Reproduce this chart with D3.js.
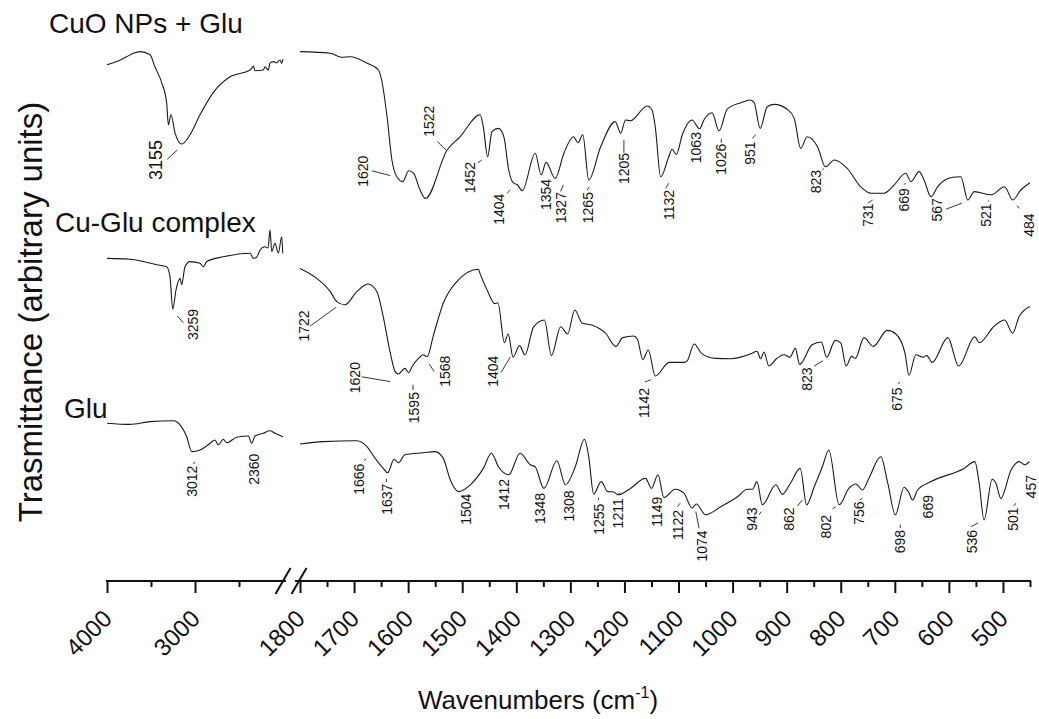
<!DOCTYPE html>
<html>
<head>
<meta charset="utf-8">
<script src="https://cdnjs.cloudflare.com/ajax/libs/d3/7.8.5/d3.min.js"></script>
<style>
body{margin:0;background:#fff;}
text{font-family:"Liberation Sans",Arial,sans-serif;fill:#111;}
</style>
</head>
<body>
<div id="plot"></div>
<script>
// series names
var seriesNames = ["CuO NPs + Glu", "Cu-Glu complex", "Glu"];

// spectra: [wavenumber, transmittance (arbitrary units)]
// high range 4000-2000, low range 1800-450
var cuoHigh = [[4000,128.8],[3890,129.6],[3776,130.8],[3701,131.7],[3625,132.1],[3511,131.3],[3455,128.3],[3378,124.3],[3322,119.3],[3303,113.8],[3273,116.3],[3227,111.8],[3151,109],[3057,111.3],[2943,116.3],[2795,121.8],[2602,125.8],[2375,127.5],[2356,127.9],[2337,128.5],[2318,127.3],[2224,127.5],[2205,128.3],[2167,127.5],[2148,129.2],[2110,129.6],[2072,129.3],[2034,130],[2015,129.2],[2000,130.2]];
var cuoLow = [[1800,132.1],[1744,131.7],[1723,130.7],[1707,130.8],[1676,129.2],[1655,127.5],[1649,125],[1639,115.8],[1630,105],[1621,100.8],[1610,99.6],[1599,102.3],[1590,101.7],[1578,97.5],[1568,95.4],[1528,107.5],[1504,110.8],[1467,116.3],[1461,113.3],[1453,105.8],[1445,112.1],[1433,112.9],[1423,110.8],[1414,102.5],[1405,99.2],[1398,98.8],[1389,97.3],[1365,106.7],[1354,101.3],[1345,104.4],[1328,100.4],[1312,106.7],[1294,110.8],[1286,109.3],[1277,111.3],[1266,100],[1244,108.3],[1217,114.6],[1207,111.7],[1198,115],[1189,114.8],[1158,118.5],[1149,117.5],[1143,113.3],[1133,100.8],[1118,105.8],[1112,107.7],[1104,106.4],[1093,111.3],[1075,115],[1061,112.8],[1053,115],[1038,116.8],[1025,112.3],[1010,117.7],[985,119.3],[967,120],[960,119.3],[949,112.9],[936,118.3],[923,118.9],[899,117.7],[886,115.4],[874,107.9],[862,110.8],[843,108.3],[828,103.3],[812,105],[788,102.9],[763,98.3],[744,96.7],[720,96.7],[701,98.8],[680,101.7],[670,99.6],[655,102.1],[646,100],[633,95.8],[621,98.3],[593,100.7],[578,100.8],[565,95],[553,97.1],[522,96.3],[497,98.3],[482,95],[467,97.5],[450,99.3]];

var cuGluHigh = [[4000,80.4],[3739,80.2],[3435,78.8],[3322,78.3],[3284,75.8],[3253,67.7],[3216,72.5],[3170,75.4],[3151,73.8],[3114,78.3],[3057,79.6],[2943,79.2],[2906,78.3],[2867,79.6],[2678,80.8],[2375,81.7],[2337,80.4],[2299,80.7],[2261,82.5],[2205,83.3],[2170,83],[2148,87.5],[2128,82.1],[2091,84.2],[2053,81.7],[2015,85.8],[2003,81.7]];
var cuGluLow = [[1800,77.9],[1769,75.4],[1744,72.1],[1732,69.6],[1717,68.8],[1695,72.1],[1674,74],[1658,72.1],[1646,65.8],[1633,56.7],[1624,52.1],[1618,51.5],[1606,52.9],[1599,51.8],[1593,53.3],[1581,55.4],[1572,56.3],[1565,55.8],[1553,61.3],[1535,69.2],[1510,74.6],[1470,77.7],[1467,76.6],[1453,72.2],[1440,69.1],[1434,69.3],[1422,59.3],[1415,61.5],[1406,55.7],[1394,58.6],[1384,56.3],[1368,63.3],[1348,65],[1335,56.1],[1318,63.3],[1305,61.5],[1292,67.5],[1278,64.2],[1259,63.7],[1235,61.7],[1216,58.4],[1203,60.6],[1183,61],[1176,60.2],[1166,55.1],[1156,57.5],[1143,51],[1117,54.4],[1090,54.4],[1084,54.8],[1071,59],[1057,56.6],[1031,55.4],[1004,55.3],[965,56.6],[955,57.2],[948,55.3],[942,57],[933,53.5],[919,55.3],[905,56.3],[894,55.7],[884,57.9],[876,53.9],[853,58.8],[836,59.5],[826,55.7],[810,59.9],[800,59.3],[790,53.5],[780,55.9],[773,55.4],[757,60.6],[740,58.4],[714,62.4],[698,61.5],[681,56.6],[674,51.2],[661,56.3],[648,55.7],[641,56.1],[631,54.4],[602,60.6],[582,53.5],[552,60.8],[544,59.3],[516,63.5],[497,65],[482,61.7],[470,65.9],[450,68.4]];

var gluHigh = [[4000,39.2],[3739,38.9],[3511,39.6],[3247,39.8],[3170,38.8],[3094,35.8],[3037,32.1],[2943,32.5],[2849,33.8],[2773,35],[2735,33.8],[2678,35.2],[2640,34.3],[2526,35.7],[2394,36],[2356,34.2],[2318,36],[2224,36.7],[2148,37.3],[2091,36.7],[2000,35.8]];
var gluLow = [[1800,34],[1757,34.6],[1695,34.8],[1676,33.3],[1661,30.4],[1646,27.9],[1638,26.8],[1626,30.2],[1618,29.3],[1606,31.3],[1572,31.8],[1550,32.1],[1535,30.4],[1522,25],[1507,22.1],[1485,23.8],[1461,27.9],[1446,31.7],[1433,28.3],[1414,26.3],[1393,31.7],[1374,28.8],[1365,28.3],[1349,22.9],[1325,29.8],[1309,23.8],[1291,28.3],[1274,35.2],[1266,30.8],[1257,21.5],[1243,24.6],[1231,22.1],[1220,22],[1212,21.3],[1189,22.9],[1161,25.4],[1150,22.9],[1138,26.3],[1127,20.6],[1106,22.7],[1090,21.7],[1075,18],[1067,19],[1050,16.3],[1022,18.3],[991,20.8],[973,22.7],[963,22.7],[955,24.6],[945,18.8],[920,23.8],[908,21.4],[893,24.2],[875,27.9],[863,18.8],[849,23.3],[834,28.3],[822,32.5],[803,18.8],[785,22.9],[772,24],[760,22.5],[748,25.4],[726,30.8],[713,24.2],[699,16.3],[683,23.2],[675,22.1],[667,20],[658,22.5],[633,24.6],[572,27.9],[552,29.6],[544,24.2],[535,15],[520,25.2],[513,24.2],[504,20.4],[485,27.5],[470,29.6],[460,28.8],[451,29.6]];

// peak labels: [text, wavenumber of label, value at label foot, leader line]
var cuoPeaks = [
  ["3155",3447,100,[3315,105.2,3201,107.5]],
  ["1620",1684,98.3,[1667,102.3,1633,101.1]],
  ["1522",1562,110.8,[1546,109.6,1530,107.5]],
  ["1452",1486,96.7,[1471,104.3,1464,105]],
  ["1404",1432,88.8,[1417,96.7,1411,97.5]],
  ["1354",1346,92.5,null],
  ["1327",1318,89.2,[1318,97.1,1313,98.8]],
  ["1265",1268,89.2,[1269,97.5,1265,98.3]],
  ["1205",1201,99,[1201,106.8,1201,110]],
  ["1132",1118,90,[1124,97.9,1118,99.2]],
  ["1063",1068,104.2,null],
  ["1026",1021,101.3,[1021,109.3,1021,110.3]],
  ["951",967,103.8,[964,110.4,957,111.3]],
  ["823",846,96.7,[834,102.5,831,102.9]],
  ["731",750,88.3,[750,94.2,741,95]],
  ["669",683,92.1,[683,98.8,680,99.3]],
  ["567",622,89.6,[605,92.7,576,94.2]],
  ["521",531,88.3,[528,94.6,525,95]],
  ["484",452,85.8,[474,93.6,470,92.9]]
];
var cuGluPeaks = [
  ["3259",3019,60,[3201,66,3133,64.3]],
  ["1722",1792,59.6,[1781,63.5,1733,68.2]],
  ["1620",1698,46.7,[1686,50.8,1633,49.6]],
  ["1595",1589,39.2,[1591,47.5,1591,48.8]],
  ["1568",1532,48.3,[1552,52.1,1561,54]],
  ["1404",1444,48.3,[1428,51.9,1411,55.8]],
  ["1142",1164,40.5,[1162,49.5,1151,50.1]],
  ["823",863,47.3,[849,53.5,833,54.8]],
  ["675",696,42.3,[694,49,690,49.5]]
];
var gluPeaks = [
  ["3012",3034,20.8,[3019,29,3000,29.5]],
  ["2360",2326,23.8,null],
  ["1666",1691,21.3,[1681,29.8,1678,30.3]],
  ["1637",1640,16.3,[1640,24.5,1640,25.3]],
  ["1504",1493,13.8,null],
  ["1412",1423,17.5,null],
  ["1348",1357,14,null],
  ["1308",1303,14.6,null],
  ["1255",1248,11.3,[1248,20,1248,20.6]],
  ["1211",1212,12.9,[1212,21.3,1209,21.8]],
  ["1149",1140,13.3,null],
  ["1122",1101,10,[1102,18.3,1097,19.2]],
  ["1074",1057,4.6,[1062,12.9,1068,17.1]],
  ["943",964,12.3,[951,16.3,947,17.1]],
  ["862",895,12.3,[880,18.5,871,20]],
  ["802",827,10.4,[815,17.8,809,18.3]],
  ["756",767,13.8,[765,20,760,20.5]],
  ["698",690,6.7,[690,13,690,13.8]],
  ["669",638,15.4,[643,18.5,646,19.2]],
  ["536",558,6.7,[559,13.3,546,14.3]],
  ["501",481,12.3,[480,18.5,476,19.2]],
  ["457",448,20.4,null]
];

// axis ticks
var majorHigh = [4000, 3000];
var minorHigh = [3500, 2500];
var majorLow = [1800,1700,1600,1500,1400,1300,1200,1100,1000,900,800,700,600,500];
var minorLow = [1750,1650,1550,1450,1350,1250,1150,1050,950,850,750,650,550,450];

var W = 1039, H = 719;
var svg = d3.select('#plot').append('svg')
  .attr('width', W).attr('height', H);

var xHigh = d3.scaleLinear().domain([4000, 2000]).range([107, 283]);
var xLow = d3.scaleLinear().domain([1800, 450]).range([300, 1030]);
function xOf(w) { return w > 1900 ? xHigh(w) : xLow(w); }
var y = d3.scaleLinear().domain([0, 145]).range([580, 0]);

var line = d3.line()
  .x(function(d){ return xOf(d[0]); })
  .y(function(d){ return y(d[1]); })
  .curve(d3.curveMonotoneX);

var spectra = [cuoHigh, cuoLow, cuGluHigh, cuGluLow, gluHigh, gluLow];
svg.append('g').selectAll('path').data(spectra).join('path')
  .attr('d', line)
  .attr('fill', 'none')
  .attr('stroke', '#1a1a1a')
  .attr('stroke-width', 1.1);

// peak labels
var peaks = svg.append('g');
[cuoPeaks, cuGluPeaks, gluPeaks].forEach(function(set){
  set.forEach(function(p){
    var size = p[0] === "3155" ? 18 : 14;
    peaks.append('text')
      .attr('transform', 'translate(' + xOf(p[1]) + ',' + y(p[2]) + ') rotate(-90)')
      .attr('dy', '0.36em')
      .style('font-size', size + 'px')
      .text(p[0]);
    if (p[3]) {
      peaks.append('line')
        .attr('x1', xOf(p[3][0])).attr('y1', y(p[3][1]))
        .attr('x2', xOf(p[3][2])).attr('y2', y(p[3][3]))
        .attr('stroke', '#222').attr('stroke-width', 0.9);
    }
  });
});

// series names
var nameX = [49, 55, 64], nameV = [136.7, 87, 40.5];
svg.append('g').selectAll('text').data(seriesNames).join('text')
  .attr('x', function(d, i){ return nameX[i]; })
  .attr('y', function(d, i){ return y(nameV[i]); })
  .style('font-size', '28px')
  .text(function(d){ return d; });

// x axis (broken)
var axisY = 581;
function drawAxis(scale, major, minor) {
  var g = svg.append('g').attr('transform', 'translate(0,' + axisY + ')');
  g.call(d3.axisBottom(scale).tickValues(minor).tickSize(6).tickSizeOuter(0).tickFormat(''));
  var g2 = svg.append('g').attr('transform', 'translate(0,' + axisY + ')');
  g2.call(d3.axisBottom(scale).tickValues(major).tickSize(12).tickSizeOuter(0).tickFormat(d3.format('d')));
  [g, g2].forEach(function(a){
    a.select('.domain').remove();
    a.selectAll('line').attr('stroke', '#111').attr('stroke-width', 2);
  });
  g2.selectAll('text')
    .attr('x', 0).attr('y', 0).attr('dy', 0)
    .attr('text-anchor', 'end')
    .attr('transform', 'translate(6,39) rotate(-45)')
    .style('font-size', '24px')
    .attr('fill', '#111');
}
drawAxis(xHigh, majorHigh, minorHigh);
drawAxis(xLow, majorLow, minorLow);

svg.append('line').attr('x1', 106).attr('x2', 286).attr('y1', axisY).attr('y2', axisY)
  .attr('stroke', '#111').attr('stroke-width', 2);
svg.append('line').attr('x1', 295).attr('x2', 1031).attr('y1', axisY).attr('y2', axisY)
  .attr('stroke', '#111').attr('stroke-width', 2);
// break marks
[[275.5, 290.5], [291.5, 306.5]].forEach(function(b){
  svg.append('line').attr('x1', b[0]).attr('y1', 594).attr('x2', b[1]).attr('y2', 568)
    .attr('stroke', '#111').attr('stroke-width', 2);
});

// axis titles
var xt = svg.append('text').attr('x', 418).attr('y', 709).style('font-size', '26px');
xt.append('tspan').text('Wavenumbers (cm');
xt.append('tspan').attr('dy', -11).style('font-size', '16px').text('-1');
xt.append('tspan').attr('dy', 11).text(')');

svg.append('text')
  .attr('transform', 'translate(42,312) rotate(-90)')
  .attr('text-anchor', 'middle')
  .style('font-size', '33px')
  .text('Trasmittance (arbitrary units)');
</script>
</body>
</html>
